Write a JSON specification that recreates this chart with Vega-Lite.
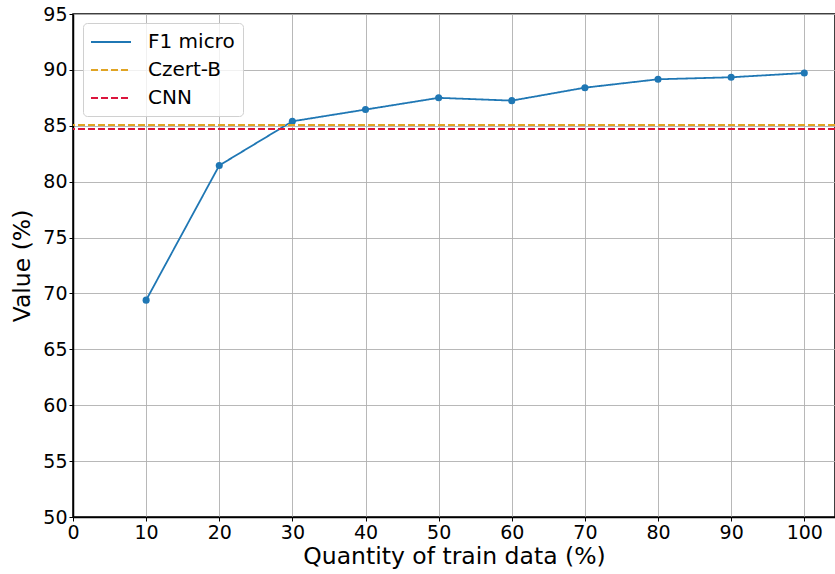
{
  "$schema": "https://vega.github.io/schema/vega-lite/v6.json",
  "width": 762,
  "height": 503,
  "autosize": {"type": "none"},
  "padding": {"left": 73, "top": 14, "right": 0, "bottom": 57},
  "background": "white",
  "config": {
    "view": {"stroke": "black", "strokeWidth": 1.5},
    "font": "DejaVu Sans",
    "axis": {
      "labelFont": "DejaVu Sans",
      "titleFont": "DejaVu Sans",
      "labelFontSize": 19,
      "titleFontSize": 23.5,
      "titleFontWeight": "normal",
      "labelColor": "black",
      "titleColor": "black",
      "domainColor": "black",
      "domainWidth": 1.5,
      "tickColor": "black",
      "tickSize": 4,
      "gridColor": "#b0b0b0",
      "gridWidth": 1,
      "gridOpacity": 0.9
    }
  },
  "datasets": {
    "f1": [
      {"q": 10, "v": 69.4},
      {"q": 20, "v": 81.45},
      {"q": 30, "v": 85.4},
      {"q": 40, "v": 86.45},
      {"q": 50, "v": 87.5},
      {"q": 60, "v": 87.25},
      {"q": 70, "v": 88.41},
      {"q": 80, "v": 89.16},
      {"q": 90, "v": 89.34},
      {"q": 100, "v": 89.72}
    ],
    "refs": [
      {"series": "Czert-B", "v": 85.07},
      {"series": "CNN", "v": 84.71}
    ]
  },
  "layer": [
    {
      "data": {"name": "f1"},
      "transform": [{"calculate": "'F1 micro'", "as": "series"}],
      "mark": {"type": "line", "strokeWidth": 1.8, "clip": true},
      "encoding": {
        "x": {
          "field": "q", "type": "quantitative",
          "scale": {"domain": [0, 104.2], "nice": false, "zero": false},
          "axis": {"values": [0,10,20,30,40,50,60,70,80,90,100], "title": "Quantity of train data (%)", "titlePadding": 2, "labelPadding": 2, "labelFlush": false}
        },
        "y": {
          "field": "v", "type": "quantitative",
          "scale": {"domain": [50, 95], "nice": false, "zero": false},
          "axis": {"values": [50,55,60,65,70,75,80,85,90,95], "title": "Value (%)", "titlePadding": 8, "labelPadding": 2, "labelFlush": false}
        },
        "color": {
          "field": "series", "type": "nominal",
          "scale": {"domain": ["F1 micro", "Czert-B", "CNN"], "range": ["#1f77b4", "#e0a423", "#dc143c"]},
          "legend": {
            "title": null,
            "orient": "none",
            "legendX": 10,
            "legendY": 9,
            "symbolType": "M-2,0H2",
            "symbolSize": 400,
            "symbolStrokeWidth": 2,
            "symbolOffset": 9,
            "labelFontSize": 20,
            "labelFont": "DejaVu Sans",
            "labelColor": "black",
            "rowPadding": 7,
            "labelOffset": 26,
            "padding": 8,
            "fillColor": "rgba(255,255,255,0.8)",
            "strokeColor": "#d0d0d0",
            "cornerRadius": 4
          }
        },
        "strokeDash": {
          "field": "series", "type": "nominal",
          "scale": {"domain": ["F1 micro", "Czert-B", "CNN"], "range": [[1, 0], [7, 3], [7, 3]]},
          "legend": null
        }
      }
    },
    {
      "data": {"name": "f1"},
      "mark": {"type": "point", "filled": true, "size": 50, "color": "#1f77b4", "opacity": 1},
      "encoding": {
        "x": {"field": "q", "type": "quantitative"},
        "y": {"field": "v", "type": "quantitative"}
      }
    },
    {
      "data": {"name": "refs"},
      "mark": {"type": "rule", "strokeWidth": 1.8},
      "encoding": {
        "y": {"field": "v", "type": "quantitative"},
        "color": {"field": "series", "type": "nominal"},
        "strokeDash": {"field": "series", "type": "nominal"}
      }
    }
  ]
}
